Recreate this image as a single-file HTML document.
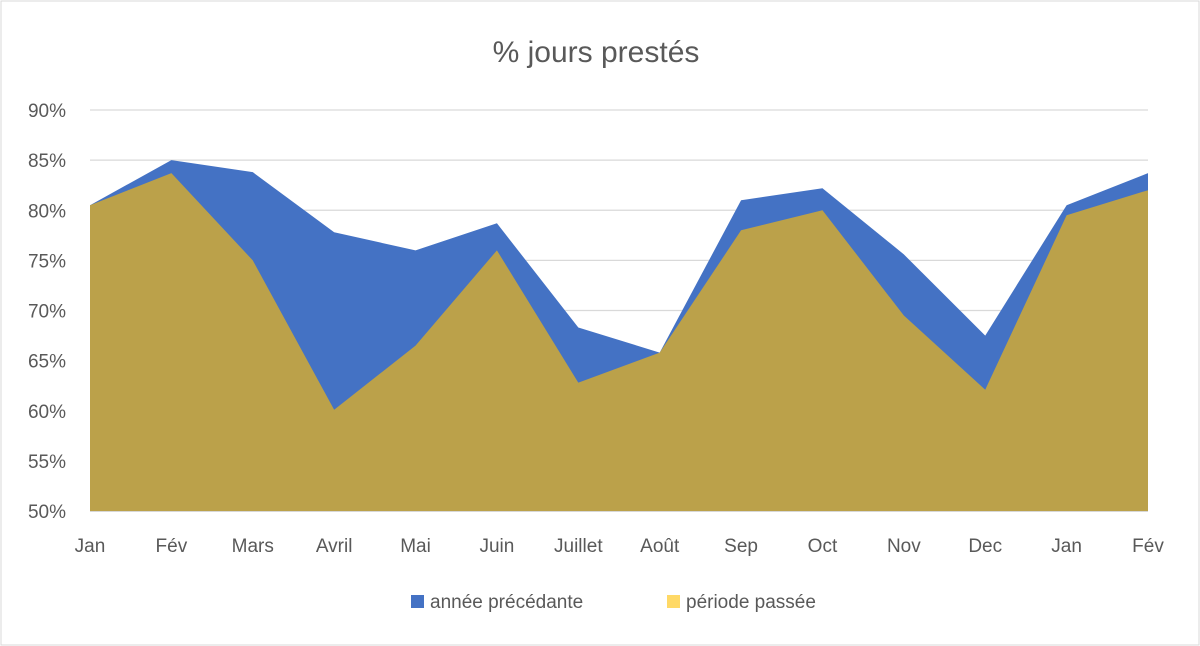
<!DOCTYPE html>
<html><head><meta charset="utf-8"><style>
body{margin:0;background:#fff;}
svg{display:block;font-family:"Liberation Sans",sans-serif;}
</style></head><body>
<svg width="1200" height="646">
<rect x="1" y="1" width="1198" height="644" fill="#fff" stroke="#d9d9d9"/>
<text x="596" y="62" text-anchor="middle" font-size="30" fill="#595959">% jours prestés</text>
<g id="grid"></g><g id="areas"></g><g id="ylab"></g><g id="xlab"></g>
<g>
<rect x="411" y="595" width="13" height="13" fill="#4472C4"/>
<text x="430" y="608" font-size="19" fill="#595959">année précédante</text>
<rect x="667" y="595" width="13" height="13" fill="#FFD966"/>
<text x="686" y="608" font-size="19" fill="#595959">période passée</text>
</g>
</svg>
<script>
const categories=["Jan","Fév","Mars","Avril","Mai","Juin","Juillet","Août","Sep","Oct","Nov","Dec","Jan","Fév"];
const anneePrecedante=[80.5,85,83.8,77.8,76,78.7,68.3,65.8,81,82.2,75.6,67.5,80.5,83.7];
const periodePassee=[80.5,83.7,75,60.1,66.5,76,62.8,65.8,78,80,69.5,62.1,79.5,82];
const yTicks=[50,55,60,65,70,75,80,85,90];
const X0=90,X1=1148,Y0=511,Y1=110,YMIN=50,YMAX=90;
const ns="http://www.w3.org/2000/svg";
function x(i){return X0+(X1-X0)*i/(categories.length-1);}
function y(v){return Y0-(v-YMIN)/(YMAX-YMIN)*(Y0-Y1);}
function mk(t,a,p){const e=document.createElementNS(ns,t);for(const k in a)e.setAttribute(k,a[k]);p.appendChild(e);return e;}
const grid=document.getElementById('grid'),ylab=document.getElementById('ylab'),xlab=document.getElementById('xlab'),areas=document.getElementById('areas');
yTicks.forEach(v=>{
 const l=mk('line',{x1:X0,x2:X1,y1:y(v),y2:y(v),stroke:v===YMIN?'#bfbfbf':'#d9d9d9','stroke-width':1.3},grid);
 
 
 const t=mk('text',{x:66,y:y(v)+7,'text-anchor':'end','font-size':19,fill:'#595959'},ylab);
 t.textContent=v+'%';
 
 
});
function area(vals,fill,name){
 let d='M'+x(0)+','+y(YMIN);
 vals.forEach((v,i)=>{d+=' L'+x(i)+','+y(v);});
 d+=' L'+x(vals.length-1)+','+y(YMIN)+' Z';
 const p=mk('path',{d:d,fill:fill},areas);
 
 
}
area(anneePrecedante,'#4472C4','area-annee-precedante');
area(periodePassee,'#BBA14A','area-periode-passee');
categories.forEach((c,i)=>{
 const t=mk('text',{x:x(i),y:552,'text-anchor':'middle','font-size':19,fill:'#595959'},xlab);
 t.textContent=c;
 
 
});
</script>
</body></html>
